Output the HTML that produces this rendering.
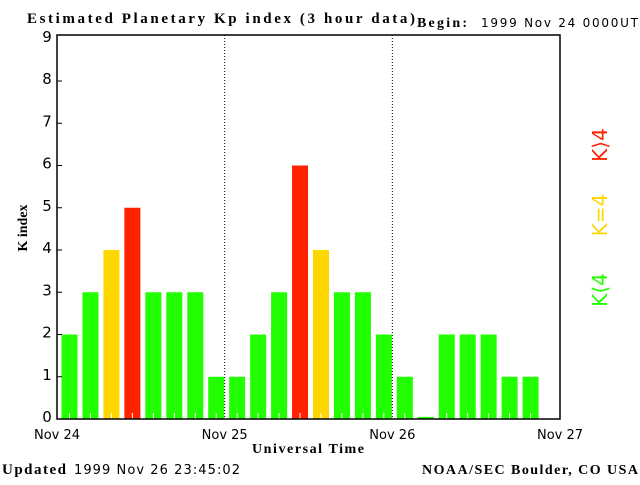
<!DOCTYPE html>
<html><head><meta charset="utf-8"><style>
body{margin:0;background:#fff;width:640px;height:480px;overflow:hidden}
svg text{fill:#000}
.s{font-family:"Liberation Serif",serif;font-weight:bold}
.a{font-family:"DejaVu Sans","Liberation Sans",sans-serif}
</style></head><body>
<svg id="c" width="640" height="480" xmlns="http://www.w3.org/2000/svg">
<text class="s" x="27" y="23" font-size="15" textLength="388" lengthAdjust="spacing">Estimated Planetary Kp index (3 hour data)</text>
<text class="s" x="417" y="27" font-size="14" textLength="50">Begin:</text>
<text class="a" x="481" y="27" font-size="12" textLength="157">1999 Nov 24 0000UT</text>
<g id="bars"></g>
<g id="axes"></g>
<rect x="57" y="35" width="503" height="384" fill="none" stroke="#000" stroke-width="1.5"/>
<text class="s" x="27" y="228" font-size="14" text-anchor="middle" transform="rotate(-90 27 228)">K index</text>
<text class="s" x="308" y="453" font-size="14" text-anchor="middle" textLength="112">Universal Time</text>
<text x="607" y="290" font-size="20" style="fill:#22ff00" class="a" text-anchor="middle" transform="rotate(-90 607 290)">K⟨4</text>
<text x="607" y="215" font-size="20" style="fill:#ffd700" class="a" text-anchor="middle" transform="rotate(-90 607 215)">K=4</text>
<text x="607" y="145" font-size="20" style="fill:#ff2200" class="a" text-anchor="middle" transform="rotate(-90 607 145)">K⟩4</text>
<text class="s" x="2" y="474" font-size="15" textLength="64">Updated</text>
<text class="a" x="74" y="474" font-size="13" textLength="166">1999 Nov 26 23:45:02</text>
<text class="s" x="638" y="474" font-size="14" text-anchor="end" textLength="216">NOAA/SEC Boulder, CO USA</text>
</svg>
<script>
const kpValues=[2,3,4,5,3,3,3,1, 1,2,3,6,4,3,3,2, 1,0.05,2,2,2,1,1];
const dayLabels=["Nov 24","Nov 25","Nov 26","Nov 27"];
const yTicks=[0,1,2,3,4,5,6,7,8,9];
const NS="http://www.w3.org/2000/svg";
const X0=57,X1=560,Y0=419,U=42.25,SLOT=(X1-X0)/24;
const xs=i=>X0+SLOT*i, ys=v=>Y0-U*v;
function mk(t,a,p){const e=document.createElementNS(NS,t);for(const k in a)e.setAttribute(k,a[k]);p.appendChild(e);return e;}
const bars=document.getElementById('bars'),axes=document.getElementById('axes');
kpValues.forEach((v,i)=>{
 const col=v>4?'#ff2200':(v>=4?'#ffd700':'#22ff00');
 const r=mk('rect',{x:xs(i)+4.5,y:ys(v),width:16,height:Y0-ys(v),fill:col},bars);
 
 
 if(v>=0.5){const l=mk('line',{x1:xs(i)+12.5,x2:xs(i)+12.5,y1:Y0-6,y2:Y0,stroke:'#fff','stroke-width':1},bars);
 
 }
});
yTicks.forEach(t=>{
 const y=ys(t);
 if(t>0&&t<9){const l=mk('line',{x1:X0,x2:X0+5,y1:y,y2:y,stroke:'#000'},axes);
 
 }
 const tx=mk('text',{x:47,y:y+3,'font-size':15,'text-anchor':'middle','class':'a'},axes);
 tx.textContent=t;
 
 
});
dayLabels.forEach((d,i)=>{
 const x=X0+(X1-X0)/3*i;
 if(i>0&&i<3){const l=mk('line',{x1:x,x2:x,y1:35,y2:Y0,stroke:'#000','stroke-dasharray':'1,2'},axes);
 
 }
 const tx=mk('text',{x:x,y:439,'font-size':13,'text-anchor':'middle','class':'a'},axes);
 tx.textContent=d;
 
 
});
</script>
</body></html>
